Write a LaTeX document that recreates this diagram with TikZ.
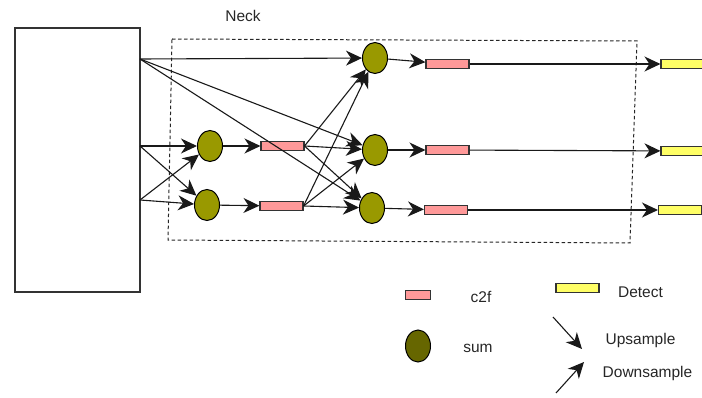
\documentclass[tikz,border=0pt]{standalone}
\usepackage{fontspec}
\setmainfont{Liberation Sans}
\usetikzlibrary{shapes.geometric,arrows.meta}

\definecolor{sumfill}{HTML}{999900}
\definecolor{sumdark}{HTML}{666600}
\definecolor{cffill}{HTML}{FF9999}
\definecolor{detfill}{HTML}{FFFF66}
\definecolor{edge}{HTML}{333333}

\tikzset{
  sumnode/.style={ellipse, draw=black, line width=1pt, fill=sumfill,
    minimum width=25pt, minimum height=31pt, inner sep=0pt},
  cfnode/.style={rectangle, draw=edge, line width=1.1pt, fill=cffill,
    minimum width=43pt, minimum height=8.5pt, inner sep=0pt},
  detnode/.style={rectangle, draw=edge, line width=1.1pt, fill=detfill,
    minimum width=43pt, minimum height=8.5pt, inner sep=0pt},
  flow/.style={draw=black!90, line width=1.1pt,
    -{Stealth[length=16pt,width=15pt,inset=5pt]}},
  lbl/.style={font=\fontsize{15.5}{18}\selectfont, text=black!85, inner sep=0pt},
}

\begin{document}
\begin{tikzpicture}[x=1pt,y=-1pt]
\useasboundingbox (0,0) rectangle (702,398);
\clip (0,0) rectangle (702,398);

% backbone block
\node[draw=black!80, line width=1.3pt, minimum width=125pt, minimum height=264pt,
  inner sep=0pt] (backbone) at (77.5,160) {};
\coordinate (p5) at (140,59);
\coordinate (p4) at (140,146);
\coordinate (p3) at (140,200);

% neck region
\draw[black!85, line width=1pt, dash pattern=on 3.5pt off 2.5pt]
  (172,39) -- (637,41) -- (630,243) -- (168,240) -- cycle;
\node[lbl] (necklbl) at (243,16) {Neck};

% first fusion stage
\node[sumnode] (sa) at (210,146) {};
\node[sumnode] (sb) at (207,205) {};
\node[cfnode] (ca) at (282.5,146) {};
\node[cfnode] (cb) at (281.5,206) {};

% second fusion stage
\node[sumnode] (st) at (375,58) {};
\node[sumnode] (sm) at (375,150) {};
\node[sumnode] (sl) at (372,208) {};
\node[cfnode] (ct) at (447.5,64) {};
\node[cfnode] (cm) at (447.5,150) {};
\node[cfnode] (cl) at (446,210) {};

% heads
\node[detnode] (dt) at (682.5,64) {};
\node[detnode] (dm) at (682.5,151) {};
\node[detnode] (dl) at (680,210) {};

% backbone outputs
\draw[flow] (p5) -- (st);
\draw[flow] (p5) -- (sm);
\draw[flow] (p5) -- (sl);
\draw[flow] (p4) -- (sa);
\draw[flow] (p4) -- (sb);
\draw[flow] (p3) -- (sa);
\draw[flow] (p3) -- (sb);

\draw[flow] (sa) -- (ca);
\draw[flow] (sb) -- (cb);

\draw[flow] (ca.east) -- (st);
\draw[flow] (ca.east) -- (sm);
\draw[flow] (ca.east) -- (sl);
\draw[flow] (cb.east) -- (st);
\draw[flow] (cb.east) -- (sm);
\draw[flow] (cb.east) -- (sl);

\draw[flow] (st) -- (ct);
\draw[flow] (sm) -- (cm);
\draw[flow] (sl) -- (cl);
\draw[flow] (ct) -- (dt);
\draw[flow] (cm) -- (dm);
\draw[flow] (cl) -- (dl);

% legend
\node[cfnode, minimum width=25pt] (kc) at (418,295) {};
\node[lbl] (kctext) at (481,297) {c2f};
\node[detnode, minimum width=43pt] (kd) at (577.5,288) {};
\node[lbl] (kdtext) at (640.5,292) {Detect};
\node[sumnode, fill=sumdark, minimum height=32pt] (ks) at (418,346) {};
\node[lbl] (kstext) at (478,348) {sum};
\coordinate (ua) at (553,317);
\coordinate (ub) at (582,349);
\draw[flow] (ua) -- (ub);
\node[lbl] (kutext) at (640.5,340) {Upsample};
\coordinate (da) at (556,393);
\coordinate (db) at (584,362);
\draw[flow] (da) -- (db);
\node[lbl] (kdstext) at (647.5,373) {Downsample};
\end{tikzpicture}
\end{document}
